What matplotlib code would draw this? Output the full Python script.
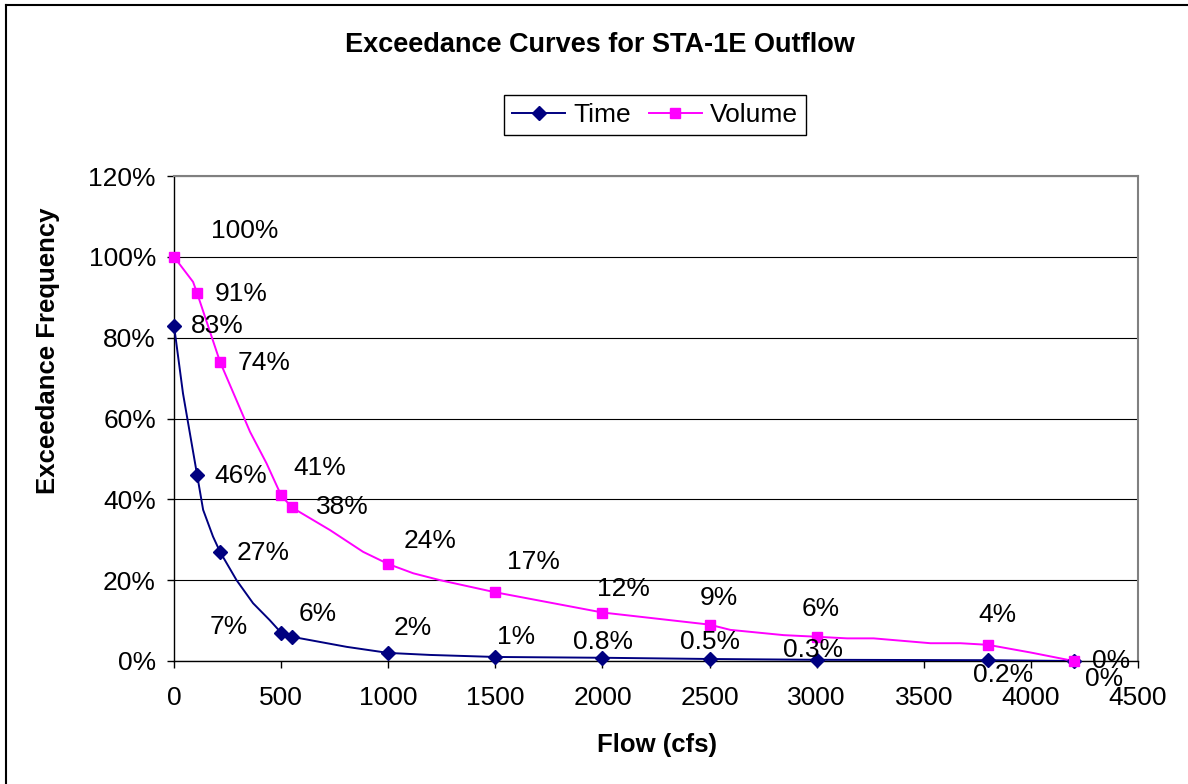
import matplotlib
matplotlib.use('Agg')
import matplotlib.pyplot as plt
from matplotlib.lines import Line2D

plt.rcParams['font.family'] = ['Liberation Sans', 'DejaVu Sans']

# marked points (flow in cfs, exceedance in %)
flow = [0, 108, 215, 500, 550, 1000, 1500, 2000, 2500, 3000, 3800, 4200]
time_pct = [83, 46, 27, 7, 6, 2, 1, 0.8, 0.5, 0.3, 0.2, 0]
volume_pct = [100, 91, 74, 41, 38, 24, 17, 12, 9, 6, 4, 0]

# full curves (line points)
time_curve_flow = [0, 42, 108, 136, 182, 215, 292, 369, 447, 500, 550, 806, 1000,
                   1195, 1500, 2000, 2500, 3000, 3400, 3800, 4200]
time_curve_pct = [83, 66.2, 46, 37.4, 30.8, 27, 20, 14.3, 10.1, 7, 6, 3.5, 2,
                  1.5, 1, 0.8, 0.5, 0.3, 0.25, 0.2, 0]
volume_curve_flow = [0, 89, 108, 215, 355, 432, 500, 550, 728, 883, 1000, 1117, 1242,
                     1500, 2000, 2500, 2597, 2846, 3000, 3142, 3266, 3531, 3671, 3800,
                     3999, 4200]
volume_curve_pct = [100, 93.8, 91, 74, 56.7, 48.9, 41, 38, 32.4, 27.0, 24, 21.7, 20.0,
                    17, 12, 9, 7.7, 6.4, 6, 5.6, 5.6, 4.4, 4.4, 4,
                    2.1, 0]

x_ticks = [0, 500, 1000, 1500, 2000, 2500, 3000, 3500, 4000, 4500]
y_ticks = [0, 20, 40, 60, 80, 100, 120]

# label offsets in pixels (dx, dy up) for each data label
time_label_off = [(17, 0), (17, -1), (17, -1), (-71, 6), (7, 23), (5, 25), (2, 20),
                  (-29, 16), (-30, 17), (-34, 10), (-15, -15), (11, -18)]
volume_label_off = [(37, 26), (18, -1), (18, -1), (12, 27), (24, 0), (15, 23), (12, 30),
                    (-5, 24), (-10, 27), (-15, 28), (-10, 30), (18, 0)]

W, H = 1188, 784
fig = plt.figure(figsize=(W / 100, H / 100), dpi=100)
ax = fig.add_axes([174 / W, 1 - 661 / H, (1138 - 174) / W, (661 - 176) / H])

navy = '#000080'
magenta = '#FF00FF'
fs = 19

ax.plot(time_curve_flow, time_curve_pct, color=navy, lw=1.4, zorder=3)
ax.plot(volume_curve_flow, volume_curve_pct, color=magenta, lw=1.4, zorder=3)
ax.plot(flow, time_pct, ls='none', marker='D', ms=7.5, color=navy, zorder=4, clip_on=False)
ax.plot(flow, volume_pct, ls='none', marker='s', ms=7.5, color=magenta, zorder=4, clip_on=False)


def fmt(v):
    if v == int(v):
        return f'{int(v)}%'
    return f'{v}%'


for x, v, (dx, dy) in zip(flow, time_pct, time_label_off):
    ax.annotate(fmt(v), (x, v), xytext=(dx, dy), textcoords='offset pixels',
                ha='left', va='center', fontsize=fs, annotation_clip=False, zorder=5)
for x, v, (dx, dy) in zip(flow, volume_pct, volume_label_off):
    ax.annotate(fmt(v), (x, v), xytext=(dx, dy), textcoords='offset pixels',
                ha='left', va='center', fontsize=fs, annotation_clip=False, zorder=5)

ax.set_xlim(0, 4500)
ax.set_ylim(0, 120)
ax.set_xticks(x_ticks)
ax.set_xticklabels([str(t) for t in x_ticks])
ax.set_yticks(y_ticks)
ax.set_yticklabels([f'{t}%' for t in y_ticks])
ax.tick_params(axis='both', direction='out', length=5, width=1, labelsize=fs)
ax.tick_params(axis='x', pad=13)
ax.tick_params(axis='y', pad=8)

ax.grid(axis='y', color='black', lw=0.8)
ax.set_axisbelow(True)
for s in ['top', 'right']:
    ax.spines[s].set_color('#808080')
    ax.spines[s].set_linewidth(1.5)
for s in ['left', 'bottom']:
    ax.spines[s].set_color('black')
    ax.spines[s].set_linewidth(1)

fig.text(600 / W, 1 - 45 / H, 'Exceedance Curves for STA-1E Outflow',
         ha='center', va='center', fontsize=19.5, fontweight='bold')
fig.text(657 / W, 1 - 745 / H, 'Flow (cfs)', ha='center', va='center',
         fontsize=18.5, fontweight='bold')
fig.text(48 / W, 1 - 351 / H, 'Exceedance Frequency', ha='center', va='center',
         rotation=90, fontsize=18.5, fontweight='bold')

handles = [Line2D([], [], color=navy, lw=1.4, marker='D', ms=7.5),
           Line2D([], [], color=magenta, lw=1.4, marker='s', ms=7.5)]
leg = fig.legend(handles, ['Time', 'Volume'], loc='center', ncol=2,
                 bbox_to_anchor=(655 / W, 1 - 115 / H), fontsize=fs,
                 frameon=True, fancybox=False, framealpha=1, edgecolor='black',
                 handlelength=2.0, handletextpad=0.3, columnspacing=0.7,
                 borderpad=0.3)
leg.get_frame().set_linewidth(1)

# outer chart border
fig.add_artist(Line2D([6 / W, 6 / W], [0, 1 - 5 / H], color='black', lw=1.5,
                      transform=fig.transFigure))
fig.add_artist(Line2D([6 / W, 1], [1 - 5 / H, 1 - 5 / H], color='black', lw=1.5,
                      transform=fig.transFigure))

fig.savefig('out.png', dpi=100)
